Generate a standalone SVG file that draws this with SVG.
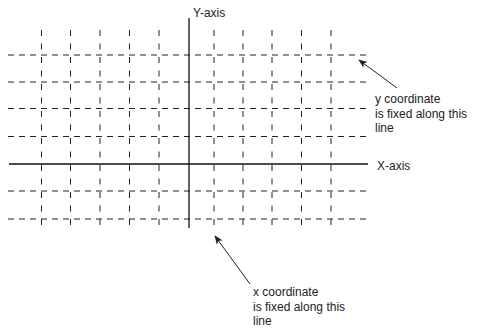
<svg xmlns="http://www.w3.org/2000/svg" width="503" height="328" viewBox="0 0 503 328">
<style>
.bg{fill:#ffffff}
.hd{stroke:#222;stroke-width:1;stroke-dasharray:6 5;fill:none}
.vd{stroke:#222;stroke-width:1;stroke-dasharray:6 7.5;fill:none}
.ax{stroke:#111;stroke-width:1.3;fill:none}
.ar{stroke:#222;stroke-width:1;fill:none;marker-end:url(#ah)}
text{font-family:"Liberation Sans",Arial,sans-serif;font-size:12px;fill:#222}
</style>
<defs>
<marker id="ah" viewBox="0 0 10 10" refX="9" refY="5" markerWidth="9" markerHeight="9" markerUnits="userSpaceOnUse" orient="auto">
<path d="M0,1 L10,5 L0,9 L2.5,5 Z" fill="#222"/>
</marker>
</defs>
<rect class="bg" x="0" y="0" width="503" height="328"/>
<g id="grid">
<path class="hd" d="M8,55H366M8,82H366M8,108.5H366M8,136.5H366M8,191H366M8,219H366"/>
<path class="vd" d="M41.5,30V230M70.5,30V230M100,30V230M129.5,30V230M159,30V230M214,30V230M243,30V230M272,30V230M301.5,30V230M331,30V230"/>
</g>
<g id="y-axis">
<line class="ax" x1="189" y1="18" x2="189" y2="228"/>
<text x="193" y="17">Y-axis</text>
</g>
<g id="x-axis">
<line class="ax" x1="9" y1="164" x2="368" y2="164"/>
<text x="377" y="170">X-axis</text>
</g>
<g id="y-note">
<text x="375" y="103">y coordinate</text>
<text x="375" y="117.5">is fixed along this</text>
<text x="375" y="132">line</text>
</g>
<g id="x-note">
<text x="253" y="296">x coordinate</text>
<text x="253" y="310.5">is fixed along this</text>
<text x="253" y="325">line</text>
</g>
<g id="connectors">
<line class="ar" x1="397" y1="88" x2="359" y2="60"/>
<line class="ar" x1="250" y1="284" x2="215" y2="236"/>
</g>
</svg>
